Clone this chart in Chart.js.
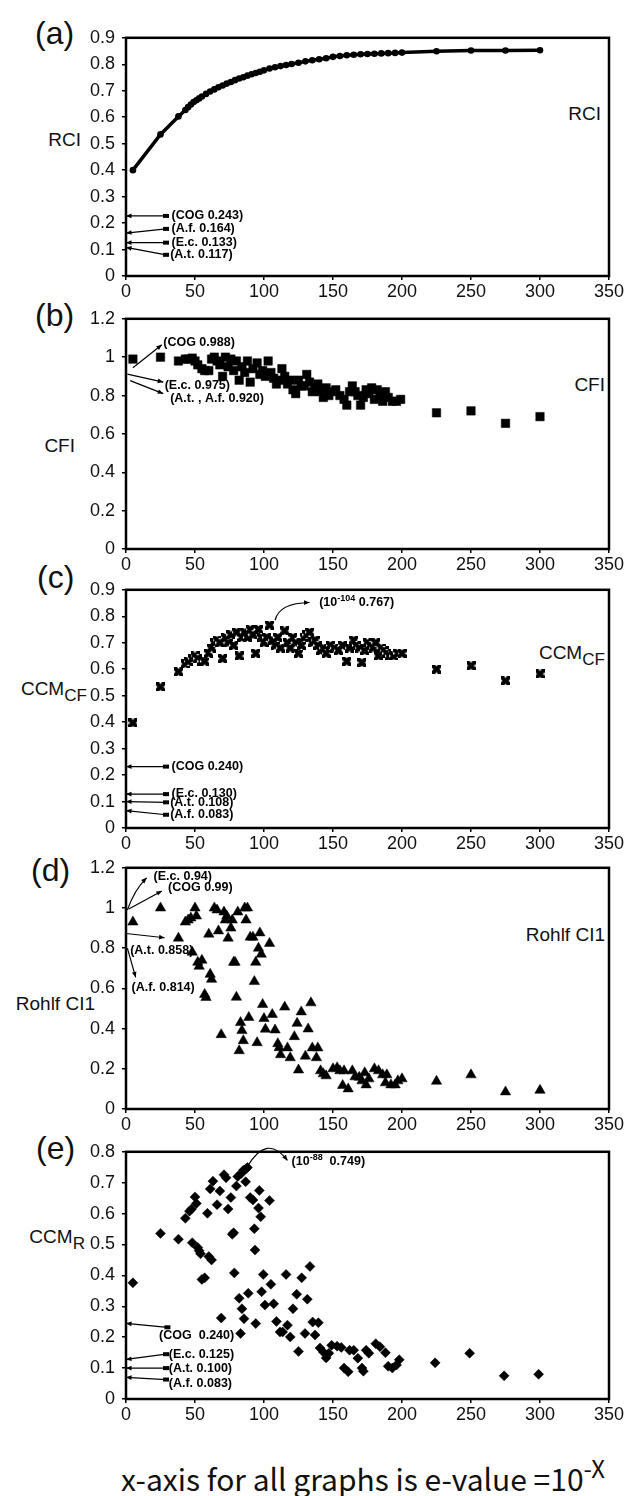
<!DOCTYPE html>
<html>
<head>
<meta charset="utf-8">
<script src="https://cdnjs.cloudflare.com/ajax/libs/Chart.js/4.4.1/chart.umd.min.js"></script>
<style>
  body{margin:0;background:#fff;width:630px;height:1496px;position:relative;overflow:hidden;
       font-family:"Liberation Sans",Arial,sans-serif;color:#111}
  canvas{position:absolute;left:0}
  .lbl{position:absolute;white-space:nowrap;transform:translateY(-50%);line-height:1}
  .letter{font-size:32px}
  .ttl{font-size:19px}
  .lbl sub{font-size:0.9em;vertical-align:-0.35em}
  #cap{position:absolute;left:121px;top:1456px;font-family:"Noto Sans CJK KR","Noto Sans",sans-serif;
       font-size:30px;white-space:nowrap;line-height:1}
  #cap sup{font-size:0.8em;vertical-align:0.55em}
</style>
</head>
<body>
<div class="lbl letter" style="left:35px;top:33px">(a)</div>
<div class="lbl letter" style="left:35px;top:315px">(b)</div>
<div class="lbl letter" style="left:37px;top:577px">(c)</div>
<div class="lbl letter" style="left:31px;top:870px">(d)</div>
<div class="lbl letter" style="left:36px;top:1148px">(e)</div>

<div class="lbl ttl" style="right:549px;top:139px">RCI</div>
<div class="lbl ttl" style="right:555px;top:445px">CFI</div>
<div class="lbl ttl" style="right:543px;top:692px">CCM<sub>CF</sub></div>
<div class="lbl ttl" style="right:535px;top:1003px">Rohlf CI1</div>
<div class="lbl ttl" style="right:545px;top:1240px">CCM<sub>R</sub></div>

<div class="lbl ttl" style="right:29px;top:113px">RCI</div>
<div class="lbl ttl" style="right:25px;top:384px">CFI</div>
<div class="lbl ttl" style="right:25px;top:656px">CCM<sub>CF</sub></div>
<div class="lbl ttl" style="right:25px;top:934px">Rohlf CI1</div>

<div id="cap">x-axis for all graphs is e-value =10<sup>-X</sup></div>

<script>
// shared x axis: e-value exponent, 10^-x
const X_TICKS = [0, 50, 100, 150, 200, 250, 300, 350];
const Y_TICKS_A = [0, 0.1, 0.2, 0.3, 0.4, 0.5, 0.6, 0.7, 0.8, 0.9];
const Y_TICKS_B = [0, 0.2, 0.4, 0.6, 0.8, 1, 1.2];
const Y_TICKS_C = [0, 0.1, 0.2, 0.3, 0.4, 0.5, 0.6, 0.7, 0.8, 0.9];
const Y_TICKS_D = [0, 0.2, 0.4, 0.6, 0.8, 1, 1.2];
const Y_TICKS_E = [0, 0.1, 0.2, 0.3, 0.4, 0.5, 0.6, 0.7, 0.8];

// (a) RCI
const RCI_X = [5, 25, 38, 43, 45, 47, 49, 51, 53, 55, 58, 61, 64, 67, 70, 73, 76, 79, 82, 85,
  88, 91, 94, 97, 100, 104, 108, 112, 116, 120, 125, 130, 135, 140, 145, 150, 155, 160, 165, 170,
  175, 180, 185, 190, 195, 200, 225, 250, 275, 300];
const RCI_Y = [0.40, 0.535, 0.603, 0.627, 0.638, 0.648, 0.657, 0.664, 0.671, 0.678, 0.688, 0.697, 0.705, 0.713, 0.72, 0.727, 0.733, 0.74, 0.746, 0.751,
  0.757, 0.762, 0.767, 0.772, 0.777, 0.784, 0.789, 0.793, 0.797, 0.801, 0.806, 0.811, 0.815, 0.819, 0.823, 0.828, 0.831, 0.834, 0.836, 0.838,
  0.839, 0.84, 0.841, 0.842, 0.843, 0.844, 0.849, 0.852, 0.852, 0.853];

// (b) CFI
const CFI_X = [5, 25, 38, 43, 45, 48, 50, 52, 55, 57, 60, 62, 64, 66, 68, 70, 72, 74, 76, 78,
  80, 82, 84, 86, 88, 90, 92, 95, 97, 99, 101, 103, 105, 107, 109, 111, 113, 115, 117, 119,
  121, 123, 125, 127, 129, 131, 133, 135, 137, 139, 141, 143, 145, 147, 149, 152, 155, 158, 160, 162,
  164, 166, 168, 170, 172, 174, 176, 178, 180, 182, 184, 186, 188, 190, 193, 196, 199, 225, 250, 275, 300];
const CFI_Y = [0.99, 1.0, 0.98, 0.99, 0.99, 0.995, 0.98, 0.96, 0.94, 0.93, 0.93, 0.99, 1.0, 0.98, 0.96, 0.9, 1.0, 0.95, 0.99, 0.93,
  0.98, 0.88, 0.95, 0.92, 0.98, 0.87, 0.94, 0.97, 0.91, 0.93, 0.9, 0.98, 0.92, 0.89, 0.86, 0.88, 0.94, 0.9, 0.86, 0.88,
  0.83, 0.81, 0.88, 0.85, 0.85, 0.91, 0.87, 0.82, 0.84, 0.86, 0.82, 0.79, 0.84, 0.8, 0.82, 0.83, 0.8, 0.78, 0.75, 0.82,
  0.85, 0.82, 0.8, 0.75, 0.79, 0.83, 0.81, 0.84, 0.78, 0.83, 0.8, 0.77, 0.82, 0.79, 0.77, 0.77, 0.78, 0.71, 0.72, 0.655, 0.69];

// (c) CCM_CF
const CCF_X = [5, 25, 38, 43, 45, 48, 50, 52, 55, 57, 60, 62, 64, 66, 68, 70, 72, 74, 76, 78,
  80, 82, 84, 86, 88, 90, 92, 94, 96, 98, 100, 102, 104, 106, 108, 110, 112, 115, 117, 119,
  121, 123, 125, 127, 129, 131, 133, 135, 137, 139, 141, 143, 145, 148, 151, 154, 157, 160, 162, 165,
  167, 169, 171, 173, 175, 177, 179, 181, 183, 185, 187, 189, 191, 194, 197, 200, 225, 250, 275, 300];
const CCF_Y = [0.397, 0.533, 0.59, 0.62, 0.63, 0.64, 0.65, 0.64, 0.63, 0.63, 0.66, 0.68, 0.70, 0.71, 0.70, 0.64, 0.72, 0.70, 0.73, 0.69,
  0.74, 0.65, 0.72, 0.74, 0.72, 0.75, 0.73, 0.66, 0.75, 0.72, 0.70, 0.72, 0.767, 0.71, 0.69, 0.72, 0.68, 0.745, 0.70, 0.68,
  0.72, 0.70, 0.66, 0.69, 0.72, 0.73, 0.74, 0.70, 0.71, 0.69, 0.67, 0.68, 0.66, 0.69, 0.68, 0.67, 0.69, 0.63, 0.68, 0.71,
  0.69, 0.68, 0.625, 0.67, 0.70, 0.69, 0.68, 0.70, 0.65, 0.68, 0.67, 0.66, 0.65, 0.65, 0.66, 0.66, 0.60, 0.613, 0.556, 0.582];

// (d) Rohlf CI1
const ROHLF_X = [5, 25, 38, 43, 45, 47, 48, 50, 51, 52, 53, 55, 57, 58, 60, 61, 62, 64, 66, 67,
  69, 71, 72, 73, 74, 76, 77, 78, 79, 80, 81, 82, 83, 84, 85, 86, 87, 88, 89, 90,
  92, 93, 94, 95, 96, 97, 98, 99, 100, 101, 104, 106, 108, 110, 111, 112, 115, 117, 119, 122,
  124, 125, 127, 130, 132, 134, 135, 138, 139, 141, 143, 145, 150, 153, 155, 157, 158, 161, 164, 166,
  169, 171, 173, 174, 176, 180, 183, 186, 188, 189, 192, 195, 197, 200, 225, 250, 275, 300];
const ROHLF_Y = [0.93, 1.0, 0.85, 0.93, 0.94, 0.95, 0.78, 1.0, 0.96, 0.73, 0.71, 0.74, 0.57, 0.555, 0.87, 0.67, 0.645, 1.0, 0.99, 0.886,
  0.37, 0.98, 0.94, 0.96, 0.85, 0.9, 0.94, 0.73, 0.73, 0.556, 0.98, 0.29, 0.43, 0.39, 0.34, 1.0, 0.94, 1.0, 0.455, 0.855,
  0.855, 0.634, 0.73, 0.33, 0.80, 0.876, 0.77, 0.52, 0.45, 0.397, 0.824, 0.47, 0.393, 0.325, 0.305, 0.27, 0.507, 0.304, 0.255, 0.36,
  0.426, 0.194, 0.483, 0.263, 0.398, 0.528, 0.304, 0.255, 0.304, 0.19, 0.175, 0.165, 0.2, 0.205, 0.19, 0.117, 0.19, 0.10, 0.19, 0.16,
  0.158, 0.14, 0.18, 0.12, 0.15, 0.2, 0.19, 0.17, 0.13, 0.17, 0.12, 0.12, 0.14, 0.15, 0.138, 0.17, 0.085, 0.093];

// (e) CCM_R
const CCMR_X = [5, 25, 38, 43, 46, 47.5, 48, 50, 51, 52, 53, 54, 55, 57, 59, 60, 61, 62, 63, 66,
  68, 69, 71, 72.5, 74, 76, 77, 78, 78.5, 80, 81, 82, 83, 83.5, 84, 85, 85.5, 86.7, 87, 88,
  88.6, 90, 92, 93, 93.5, 94, 96, 96.6, 97.6, 98.3, 99.5, 100.7, 104, 105, 107, 109, 111.6, 113.5, 116, 117,
  119, 121, 123.7, 125, 127.3, 129.7, 131.4, 133.3, 135.3, 137, 139.4, 140.6, 143, 145, 147, 149, 153, 156, 158, 161,
  162, 165, 168, 171, 172, 174, 176, 181, 184, 188, 190, 193, 196, 198, 224, 249, 274, 299];
const CCMR_Y = [0.376, 0.536, 0.517, 0.585, 0.608, 0.615, 0.506, 0.654, 0.633, 0.49, 0.48, 0.47, 0.387, 0.392, 0.601, 0.461, 0.68, 0.45, 0.705, 0.629,
  0.673, 0.262, 0.726, 0.716, 0.615, 0.652, 0.533, 0.538, 0.408, 0.689, 0.72, 0.326, 0.212, 0.73, 0.292, 0.74, 0.26, 0.703, 0.745, 0.749,
  0.342, 0.652, 0.644, 0.551, 0.482, 0.244, 0.618, 0.675, 0.59, 0.347, 0.403, 0.304, 0.642, 0.371, 0.308, 0.251, 0.217, 0.217, 0.403, 0.239,
  0.201, 0.292, 0.339, 0.154, 0.392, 0.212, 0.323, 0.429, 0.249, 0.207, 0.247, 0.165, 0.152, 0.133, 0.148, 0.174, 0.171, 0.167, 0.10, 0.088,
  0.158, 0.158, 0.132, 0.10, 0.09, 0.158, 0.148, 0.179, 0.169, 0.15, 0.106, 0.10, 0.11, 0.127, 0.117, 0.148, 0.075, 0.08];

// Callouts: text at `at`, arrow from -> to (head at `to`), optional curve through `via`
const NOTES_A = [
  {text:'(COG 0.243)', at:[33,0.228], from:[29,0.227], to:[0,0.227], blob:true},
  {text:'(A.f. 0.164)', at:[33,0.180], from:[29,0.178], to:[0,0.162], blob:true},
  {text:'(E.c. 0.133)', at:[33,0.128], from:[29,0.126], to:[0,0.126], blob:true},
  {text:'(A.t. 0.117)', at:[32,0.080], from:[29,0.080], to:[0,0.108], blob:true},
];
const NOTES_B = [
  {text:'(COG 0.988)', at:[27,1.075], from:[5,0.945], to:[26,1.065]},
  {text:'(E.c. 0.975)', at:[28,0.852], from:[1,0.912], to:[27,0.870]},
  {text:'(A.t. , A.f. 0.920)', at:[32,0.783], from:[3,0.878], to:[27,0.810]},
];
const NOTES_C = [
  {text:[['(10'],['-104',1],[' 0.767)']], at:[140,0.853], from:[108,0.785], via:[111,0.85], to:[133,0.852]},
  {text:'(COG 0.240)', at:[33,0.232], from:[29,0.232], to:[0,0.232], blob:true},
  {text:'(E.c. 0.130)', at:[33,0.130], from:[29,0.128], to:[0,0.128], blob:true},
  {text:'(A.t. 0.108)', at:[32,0.097], from:[29,0.097], to:[0,0.100], blob:true},
  {text:'(A.f. 0.083)', at:[32,0.050], from:[29,0.050], to:[0,0.066], blob:true},
];
const NOTES_D = [
  {text:'(E.c. 0.94)', at:[20,1.158], from:[1,0.99], via:[6,1.09], to:[15,1.15]},
  {text:'(COG 0.99)', at:[30.5,1.10], from:[2,0.995], to:[26,1.085]},
  {text:'(A.t. 0.858)', at:[3,0.79], from:[0,0.873], to:[28,0.852]},
  {text:'(A.f. 0.814)', at:[4,0.605], from:[1,0.80], to:[7,0.655]},
];
const NOTES_E = [
  {text:[['(10'],['-88',1],['  0.749)']], at:[120,0.770], from:[88,0.752], via:[102,0.86], to:[117,0.772]},
  {text:'(COG  0.240)', at:[24,0.205], from:[30,0.232], to:[0,0.245], blob:true},
  {text:'(E.c. 0.125)', at:[31,0.143], from:[29,0.145], to:[0,0.128], blob:true},
  {text:'(A.t. 0.100)', at:[31,0.097], from:[29,0.100], to:[0,0.100], blob:true},
  {text:'(A.f. 0.083)', at:[31,0.050], from:[29,0.063], to:[0,0.070], blob:true},
];

const FONT = '"Liberation Sans", Arial, sans-serif';
const pairs = (xs, ys) => xs.map((x, i) => ({x, y: ys[i]}));

// square with notched sides, like the spreadsheet "x on square" marker
function notchedSquare(){
  const c = document.createElement('canvas'); c.width = 9; c.height = 9;
  const g = c.getContext('2d');
  g.fillStyle = '#000'; g.fillRect(0, 0, 9, 9);
  g.fillStyle = '#fff';
  g.beginPath(); g.moveTo(3,0); g.lineTo(4.5,1.6); g.lineTo(6,0); g.fill();
  g.beginPath(); g.moveTo(3,9); g.lineTo(4.5,7.4); g.lineTo(6,9); g.fill();
  g.beginPath(); g.moveTo(0,3); g.lineTo(1.6,4.5); g.lineTo(0,6); g.fill();
  g.beginPath(); g.moveTo(9,3); g.lineTo(7.4,4.5); g.lineTo(9,6); g.fill();
  return c;
}

const framePlugin = {
  id:'frame',
  beforeDatasetsDraw(chart){
    const {ctx, chartArea:a} = chart;
    ctx.save(); ctx.strokeStyle = '#000'; ctx.lineWidth = 2.5;
    ctx.strokeRect(a.left, a.top, a.right - a.left, a.bottom - a.top);
    ctx.restore();
  }
};

function notesPlugin(notes){
  return {
    id:'notes',
    afterDatasetsDraw(chart){
      const {ctx, scales:{x, y}} = chart;
      const P = p => [x.getPixelForValue(p[0]), y.getPixelForValue(p[1])];
      ctx.save();
      ctx.strokeStyle = '#000'; ctx.fillStyle = '#000'; ctx.lineWidth = 1.2;
      for(const n of notes){
        const a = P(n.from), b = P(n.to);
        let ang;
        ctx.beginPath(); ctx.moveTo(a[0], a[1]);
        if(n.via){
          const c = P(n.via);
          ctx.quadraticCurveTo(c[0], c[1], b[0], b[1]);
          ang = Math.atan2(b[1]-c[1], b[0]-c[0]);
        } else {
          ctx.lineTo(b[0], b[1]);
          ang = Math.atan2(b[1]-a[1], b[0]-a[0]);
        }
        ctx.stroke();
        ctx.beginPath(); ctx.moveTo(b[0], b[1]);
        ctx.lineTo(b[0]-6*Math.cos(ang-0.4), b[1]-6*Math.sin(ang-0.4));
        ctx.lineTo(b[0]-6*Math.cos(ang+0.4), b[1]-6*Math.sin(ang+0.4));
        ctx.closePath(); ctx.fill();
        if(n.blob) ctx.fillRect(a[0]-3, a[1]-2, 6, 4);
        const t = P(n.at);
        const parts = typeof n.text === 'string' ? [[n.text]] : n.text;
        ctx.textBaseline = 'middle'; ctx.textAlign = 'left';
        let xx = t[0];
        for(const [s, sup] of parts){
          ctx.font = (sup ? 'bold 9px ' : 'bold 12.5px ') + FONT;
          ctx.fillText(s, xx, sup ? t[1]-4 : t[1]);
          xx += ctx.measureText(s).width;
        }
      }
      ctx.restore();
    }
  };
}

function makePanel(top, bottom, yTicks, dataset, notes){
  const padTop = 12, axisH = 30;
  const cv = document.createElement('canvas');
  cv.width = 630; cv.height = bottom - top + padTop + axisH;
  cv.style.top = (top - padTop) + 'px';
  document.body.appendChild(cv);
  const tickFont = {size:18, family:FONT};
  new Chart(cv, {
    type:'scatter',
    data:{datasets:[Object.assign({clip:false}, dataset)]},
    options:{
      responsive:false, animation:false, events:[],
      layout:{padding:{top:padTop, right:21, left:0, bottom:0}},
      plugins:{legend:{display:false}, tooltip:{enabled:false}},
      scales:{
        x:{
          type:'linear', min:0, max:350,
          afterBuildTicks:s => { s.ticks = X_TICKS.map(v => ({value:v})); },
          afterFit:s => { s.height = axisH; },
          border:{display:false},
          grid:{drawOnChartArea:false, drawTicks:true, tickLength:4, color:'#000', lineWidth:1.5},
          ticks:{color:'#111', font:tickFont, padding:1, maxRotation:0, autoSkip:false, callback:v => String(v)}
        },
        y:{
          type:'linear', min:0, max:yTicks[yTicks.length-1],
          afterBuildTicks:s => { s.ticks = yTicks.map(v => ({value:v})); },
          afterFit:s => { s.width = 126; },
          border:{display:false},
          grid:{drawOnChartArea:false, drawTicks:true, tickLength:4, color:'#000', lineWidth:1.5},
          ticks:{color:'#111', font:tickFont, padding:7, autoSkip:false, callback:v => String(v)}
        }
      }
    },
    plugins:[framePlugin, notesPlugin(notes)]
  });
}

makePanel(32, 276, Y_TICKS_A, {
  data:pairs(RCI_X, RCI_Y), showLine:true, borderColor:'#000', borderWidth:3.5,
  pointRadius:3.3, pointBackgroundColor:'#000', pointBorderWidth:0
}, NOTES_A);

makePanel(313, 549, Y_TICKS_B, {
  data:pairs(CFI_X, CFI_Y), pointStyle:'rect', pointRadius:6,
  pointBackgroundColor:'#000', pointBorderColor:'#000', pointBorderWidth:0.5
}, NOTES_B);

makePanel(584, 828, Y_TICKS_C, {
  data:pairs(CCF_X, CCF_Y), pointStyle:notchedSquare(), pointRadius:5
}, NOTES_C);

makePanel(862, 1109, Y_TICKS_D, {
  data:pairs(ROHLF_X, ROHLF_Y), pointStyle:'triangle', pointRadius:6,
  pointBackgroundColor:'#000', pointBorderColor:'#000', pointBorderWidth:0.5
}, NOTES_D);

makePanel(1146, 1399, Y_TICKS_E, {
  data:pairs(CCMR_X, CCMR_Y), pointStyle:'rectRot', pointRadius:5,
  pointBackgroundColor:'#000', pointBorderColor:'#000', pointBorderWidth:0.5
}, NOTES_E);
</script>
</body>
</html>
